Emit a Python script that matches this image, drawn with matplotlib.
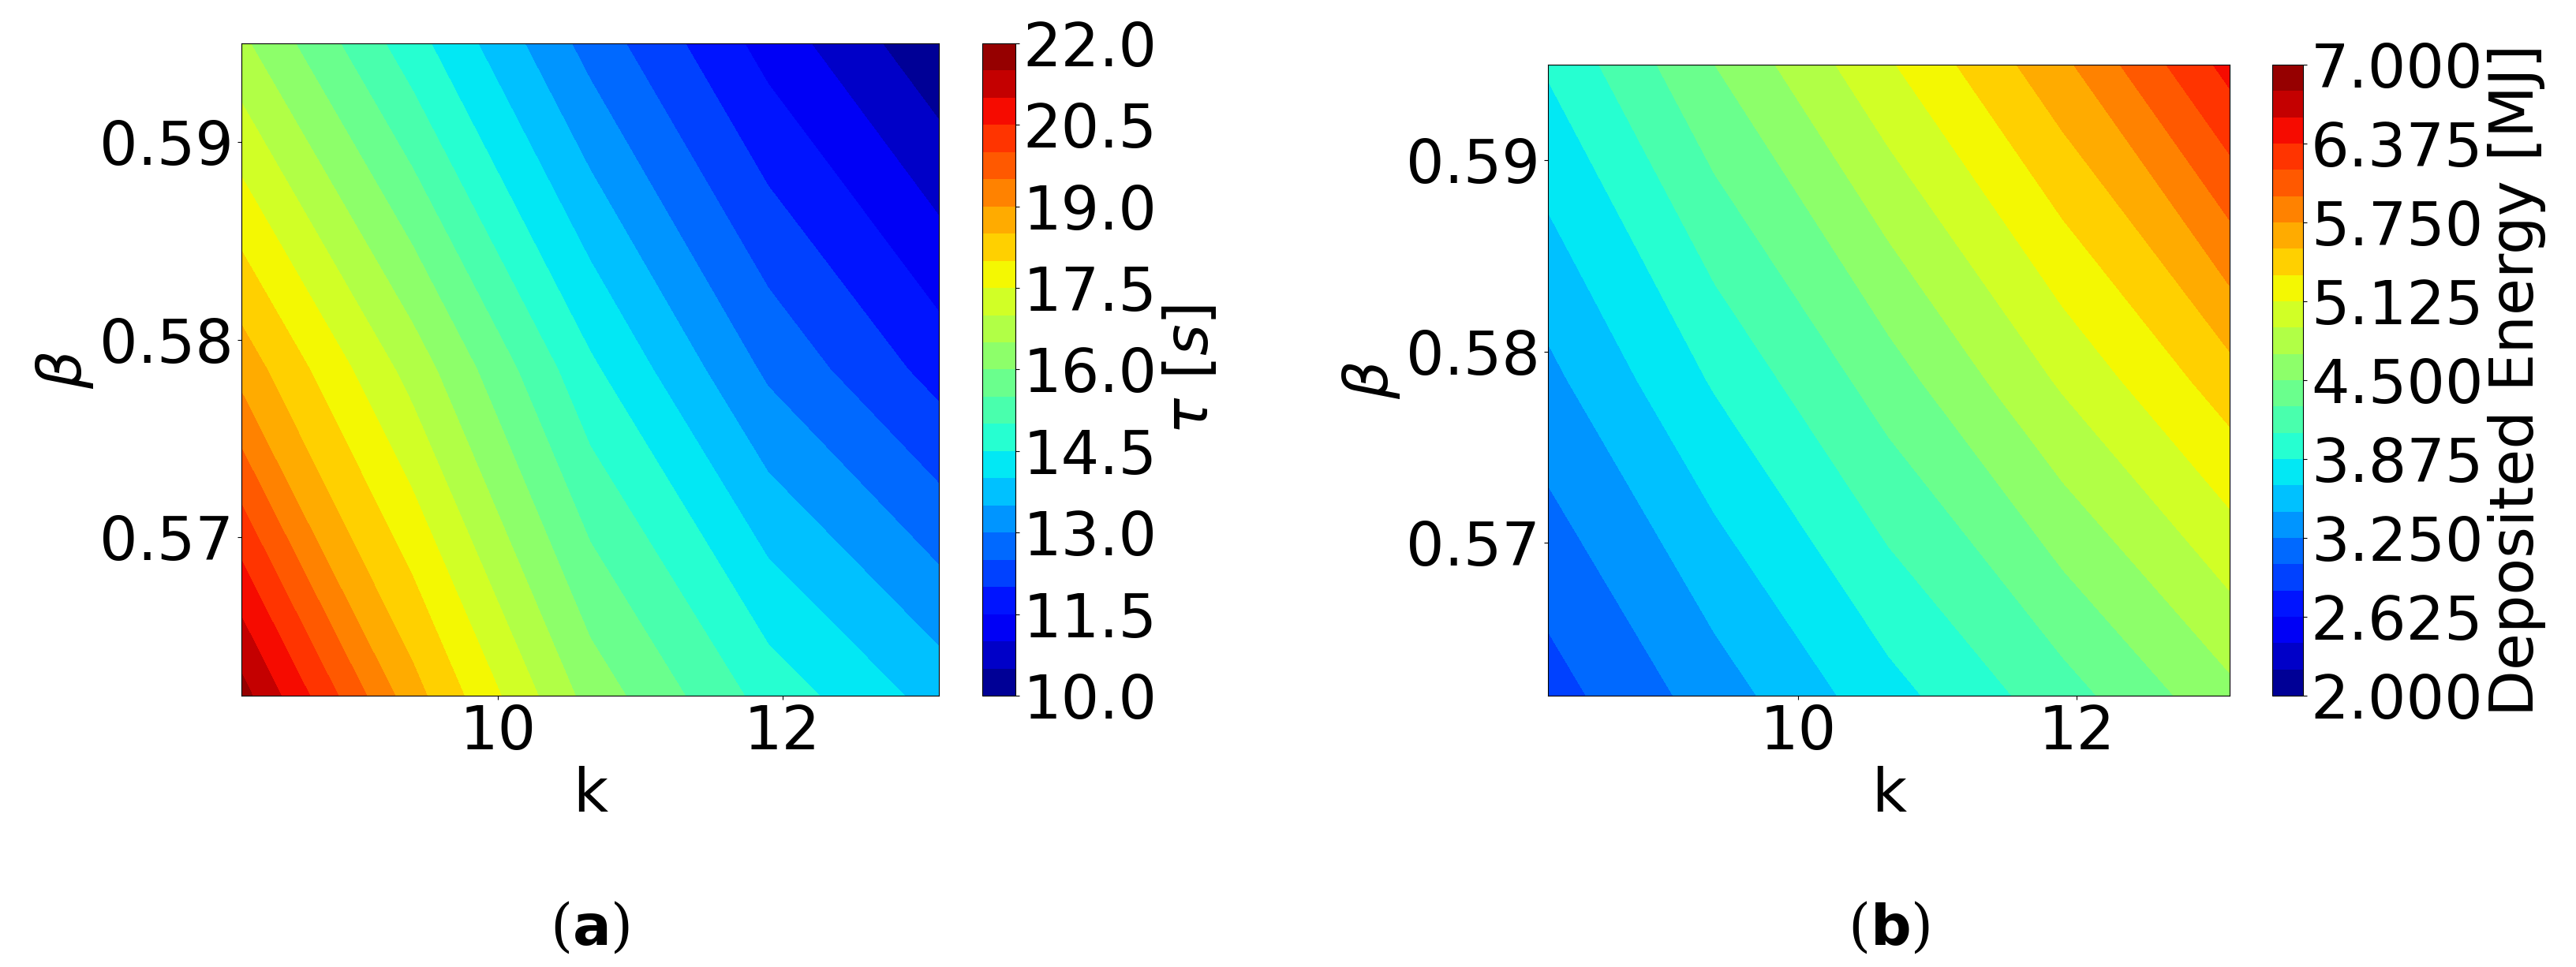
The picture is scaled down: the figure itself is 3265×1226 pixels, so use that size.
import numpy as np
import matplotlib
matplotlib.use('Agg')
import matplotlib.pyplot as plt

# grid of (k, beta) sample points
k_vals = [8.2, 9.4, 10.65, 11.9, 13.1]
beta_vals = [0.562, 0.5785, 0.595]

# tau [s], rows = beta (bottom -> top), cols = k
tau = [[21.7, 18.7, 16.3, 14.8, 13.8],
       [18.8, 16.8, 14.6, 12.9, 11.8],
       [16.6, 14.7, 12.8, 11.3, 10.1]]

# deposited energy [MJ]
energy = [[2.95, 3.35, 3.8, 4.2, 4.65],
          [3.4, 3.9, 4.4, 4.95, 5.45],
          [3.9, 4.5, 5.1, 5.7, 6.45]]

tau_levels = np.linspace(10, 22, 25)
tau_ticks = np.linspace(10, 22, 9)
en_levels = np.linspace(2, 7, 25)
en_ticks = np.linspace(2, 7, 9)

FS = 55
plt.rcParams['font.family'] = 'DejaVu Sans'
plt.rcParams['font.size'] = FS

fig = plt.figure(figsize=(32.66, 12.26), dpi=100)

K, B = np.meshgrid(k_vals, beta_vals)

def panel(rect, crect, Z, levels, ticks, fmt, clabel, tag):
    ax = fig.add_axes(rect)
    cs = ax.contourf(K, B, np.array(Z), levels=levels, cmap='jet')
    ax.set_xlim(8.2, 13.1)
    ax.set_ylim(0.562, 0.595)
    ax.set_xticks([10, 12])
    ax.set_yticks([0.57, 0.58, 0.59])
    ax.set_xlabel('k')
    ax.set_ylabel(r'$\beta$')
    cax = fig.add_axes(crect)
    cb = fig.colorbar(cs, cax=cax, ticks=ticks, format=fmt)
    cb.set_label(clabel, labelpad=4)
    fig.text(rect[0] + rect[2] / 2, 0.04, tag, ha='center', va='center',
             family='DejaVu Serif', fontsize=52)
    return ax

panel([0.0937, 0.2806, 0.2707, 0.6746], [0.3812, 0.2806, 0.0129, 0.6746],
      tau, tau_levels, tau_ticks, '%.1f', r'$\tau$ [$s$]', r'($\mathbf{a}$)')
panel([0.6007, 0.2806, 0.2645, 0.6525], [0.8818, 0.2806, 0.012, 0.6525],
      energy, en_levels, en_ticks, '%.3f', 'Deposited Energy [MJ]', r'($\mathbf{b}$)')

fig.savefig('out.png', dpi=100)
